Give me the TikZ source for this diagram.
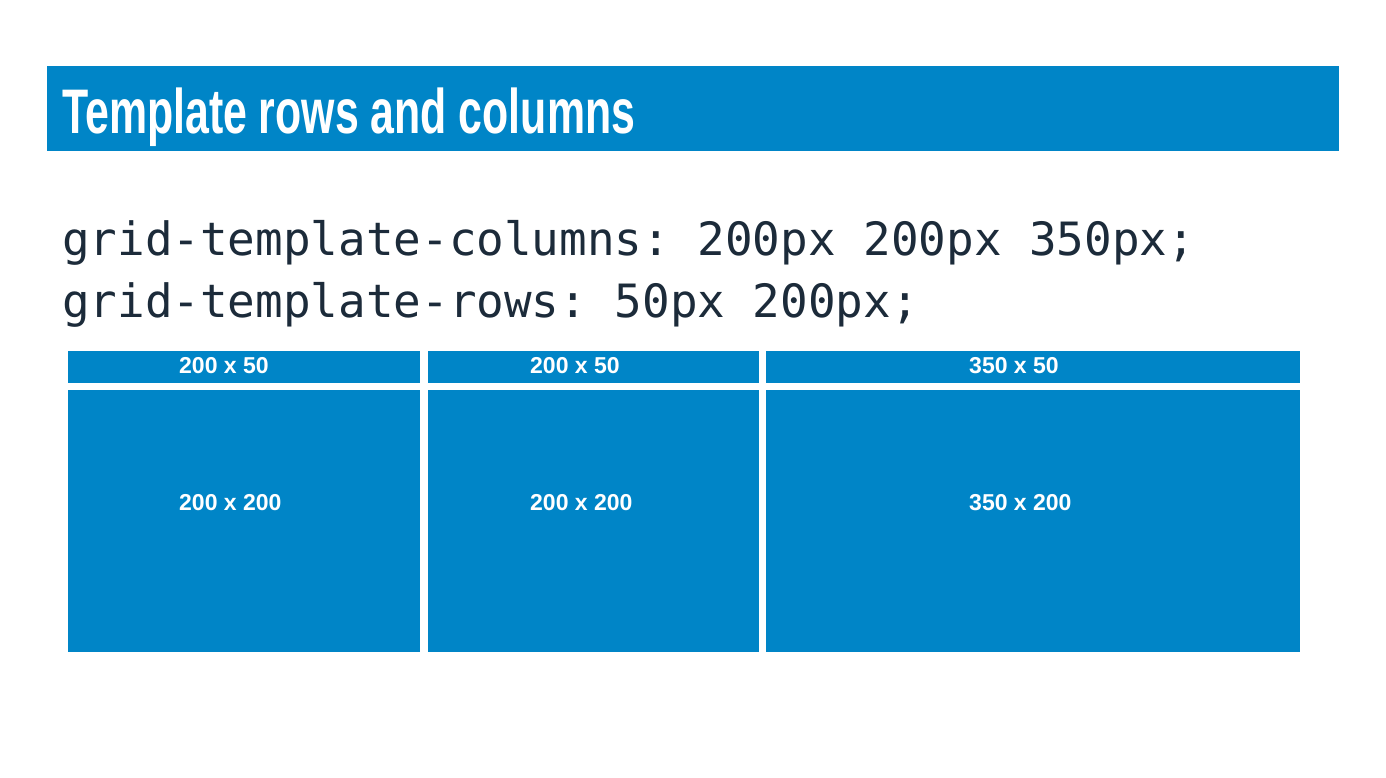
\documentclass[tikz,border=0pt]{standalone}
\usepackage{fontspec}
\setmainfont{Liberation Sans}
\newfontfamily\titlefont[FakeStretch=0.68]{Liberation Sans Bold}
\newfontfamily\codefont{DejaVu Sans Mono}
\usetikzlibrary{positioning}
\definecolor{barblue}{HTML}{0085C7}
\definecolor{codeink}{HTML}{1C2B3A}

\begin{document}
\frenchspacing
\begin{tikzpicture}[x=1pt, y=-1pt,
  bar/.style={fill=barblue, inner sep=0pt, anchor=north west},
  cell/.style={fill=barblue, inner sep=0pt, anchor=north west},
  lbl/.style={text=white, font=\fontsize{23}{23}\selectfont\bfseries, anchor=west, inner sep=0pt},
  code/.style={text=codeink, font=\codefont\fontsize{45.9}{46}\selectfont, anchor=base west, inner sep=0pt},
  ttl/.style={text=white, font=\titlefont\fontsize{63}{63}\selectfont, anchor=base west, inner sep=0pt}]
\useasboundingbox (0,0) rectangle (1386,777);
% title bar
\node[bar, minimum width=1292pt, minimum height=85pt] (bar) at (47,66) {};
\node[ttl] (title) at (62,133) {Template rows and columns};
% css lines
\node[code] (cols) at (62,255) {grid-template-columns: 200px 200px 350px;};
\node[code] (rows) at (62,317) {grid-template-rows: 50px 200px;};
% grid cells
\node[cell, minimum width=352pt, minimum height=32pt] (a1) at (68,351) {};
\node[cell, minimum width=331pt, minimum height=32pt, anchor=west, right=7pt of a1] (b1) {};
\node[cell, minimum width=534pt, minimum height=32pt, anchor=west, right=7pt of b1] (c1) {};
\node[cell, minimum width=352pt, minimum height=262pt, anchor=north, below=6pt of a1] (a2) {};
\node[cell, minimum width=331pt, minimum height=262pt, anchor=north, below=6pt of b1] (b2) {};
\node[cell, minimum width=534pt, minimum height=262pt, anchor=north, below=6pt of c1] (c2) {};
% cell labels
\node[lbl] (la1) at (179,366) {200 x 50};
\node[lbl] (lb1) at (530,366) {200 x 50};
\node[lbl] (lc1) at (969,366) {350 x 50};
\node[lbl] (la2) at (179,503) {200 x 200};
\node[lbl] (lb2) at (530,503) {200 x 200};
\node[lbl] (lc2) at (969,503) {350 x 200};
\end{tikzpicture}
\end{document}
